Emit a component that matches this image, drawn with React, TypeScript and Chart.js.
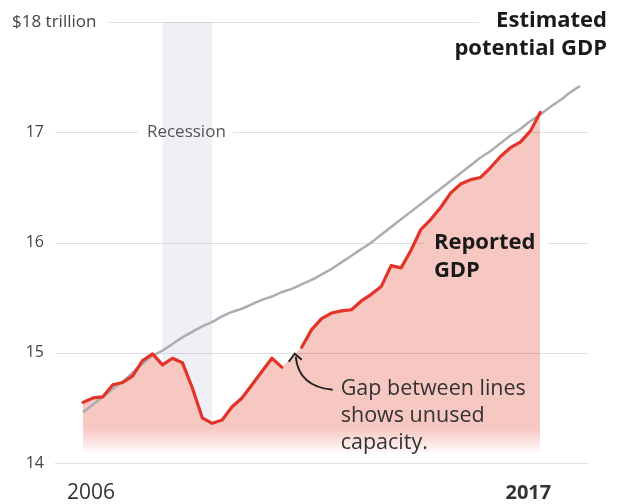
import React, { useEffect, useRef } from "react";
import { Chart, registerables } from "chart.js";

Chart.register(...registerables);

const quarters: string[] = [
  "2006 Q1", "2006 Q2", "2006 Q3", "2006 Q4",
  "2007 Q1", "2007 Q2", "2007 Q3", "2007 Q4",
  "2008 Q1", "2008 Q2", "2008 Q3", "2008 Q4",
  "2009 Q1", "2009 Q2", "2009 Q3", "2009 Q4",
  "2010 Q1", "2010 Q2", "2010 Q3", "2010 Q4",
  "2011 Q1", "2011 Q2", "2011 Q3", "2011 Q4",
  "2012 Q1", "2012 Q2", "2012 Q3", "2012 Q4",
  "2013 Q1", "2013 Q2", "2013 Q3", "2013 Q4",
  "2014 Q1", "2014 Q2", "2014 Q3", "2014 Q4",
  "2015 Q1", "2015 Q2", "2015 Q3", "2015 Q4",
  "2016 Q1", "2016 Q2", "2016 Q3", "2016 Q4",
  "2017 Q1", "2017 Q2", "2017 Q3", "2017 Q4",
  "2018 Q1", "2018 Q2", "2018 Q3",
];

// Reported GDP, $ trillion (null = break in the line for the annotation arrow)
const reportedGDP: (number | null)[] = [
  14.55, 14.59, 14.6, 14.71, 14.73, 14.79, 14.93, 14.99,
  14.89, 14.95, 14.91, 14.68, 14.41, 14.36, 14.39, 14.51,
  14.59, 14.71, 14.83, 14.95, 14.87, null, 15.05, 15.21,
  15.31, 15.36, 15.38, 15.39, 15.47, 15.53, 15.6, 15.79,
  15.77, 15.93, 16.12, 16.21, 16.32, 16.45, 16.53, 16.57,
  16.59, 16.68, 16.78, 16.86, 16.91, 17.01, 17.18,
];

// Estimated potential GDP, $ trillion
const potentialGDP: number[] = [
  14.46, 14.53, 14.6, 14.67, 14.74, 14.82, 14.9, 14.97,
  15.02, 15.08, 15.14, 15.19, 15.24, 15.28, 15.33, 15.37,
  15.4, 15.44, 15.48, 15.51, 15.55, 15.58, 15.62, 15.66,
  15.71, 15.76, 15.82, 15.88, 15.94, 16.0, 16.07, 16.14,
  16.21, 16.28, 16.35, 16.42, 16.49, 16.56, 16.63, 16.7,
  16.77, 16.83, 16.9, 16.97, 17.03, 17.1, 17.16, 17.23,
  17.29, 17.36, 17.42,
];

const yTickValues: number[] = [18, 17, 16, 15, 14];
const yTickLabels: string[] = ["$18 trillion", "17", "16", "15", "14"];
const xTickLabels: string[] = ["2006", "2017"];
const xTickQuarters: string[] = ["2006 Q1", "2017 Q1"];
const recessionRange: string[] = ["2008 Q1", "2009 Q2"];

const RED = "rgb(226,52,40)";
const GRAY = "rgb(170,173,178)";
const PINK = "rgb(247,199,194)";
const FONT = "'Open Sans', Roboto, sans-serif";

const overlayPlugin = {
  id: "overlay",
  beforeDatasetsDraw(chart: any) {
    const { ctx, scales } = chart;
    const x = scales.x;
    const y = scales.y;
    const x0 = x.getPixelForValue(quarters.indexOf(recessionRange[0]));
    const x1 = x.getPixelForValue(quarters.indexOf(recessionRange[1]));
    ctx.save();
    ctx.fillStyle = "rgb(239,239,245)";
    ctx.fillRect(x0, y.getPixelForValue(18), x1 - x0, y.getPixelForValue(14) - y.getPixelForValue(18));
    ctx.restore();
  },
  afterDatasetDraw(chart: any, args: any) {
    if (args.index !== 2) return;
    const { ctx, scales } = chart;
    const x = scales.x;
    const y = scales.y;
    const right = x.getPixelForValue(quarters.length - 1) + 8;
    ctx.save();
    ctx.font = `bold 22px ${FONT}`;
    const titleW = ctx.measureText("Estimated").width;
    const titleRight = right + 19;
    ctx.font = `17px ${FONT}`;
    const recW = ctx.measureText("Recession").width;
    const rx0 = x.getPixelForValue(quarters.indexOf(recessionRange[0]));
    const rx1 = x.getPixelForValue(quarters.indexOf(recessionRange[1]));
    const rc = (rx0 + rx1) / 2;
    ctx.font = `bold 22px ${FONT}`;
    const repW = ctx.measureText("Reported").width;
    const repX = x.getPixelForValue(35) + 3;
    ctx.font = `17px ${FONT}`;
    const topLabelW = ctx.measureText(yTickLabels[0]).width;

    const gaps: Record<number, [number, number][]> = {
      18: [[-1e9, 13 + topLabelW + 10], [titleRight - titleW - 17, 1e9]],
      17: [[rc - recW / 2 - 10, rc + recW / 2 + 6]],
      16: [[repX - 10, repX + repW + 12]],
    };
    ctx.strokeStyle = "rgba(0,0,0,0.12)";
    ctx.lineWidth = 1;
    yTickValues.forEach((v) => {
      const py = Math.round(y.getPixelForValue(v)) + 0.5;
      let segs: [number, number][] = [[55, right]];
      (gaps[v] || []).forEach(([g0, g1]) => {
        const out: [number, number][] = [];
        segs.forEach(([s0, s1]) => {
          if (g1 <= s0 || g0 >= s1) out.push([s0, s1]);
          else {
            if (g0 > s0) out.push([s0, g0]);
            if (g1 < s1) out.push([g1, s1]);
          }
        });
        segs = out;
      });
      segs.forEach(([s0, s1]) => {
        ctx.beginPath();
        ctx.moveTo(s0, py);
        ctx.lineTo(s1, py);
        ctx.stroke();
      });
    });
    ctx.restore();
  },
  afterDraw(chart: any) {
    const { ctx, scales } = chart;
    const x = scales.x;
    const y = scales.y;
    const right = x.getPixelForValue(quarters.length - 1) + 8;
    ctx.save();
    ctx.textBaseline = "middle";

    yTickValues.forEach((v, i) => {
      const py = y.getPixelForValue(v);
      ctx.fillStyle = "#444";
      if (i === 0) {
        ctx.font = `17px ${FONT}`;
        ctx.textAlign = "left";
        ctx.fillText(yTickLabels[i], 12, py);
      } else {
        ctx.font = `16px ${FONT}`;
        ctx.textAlign = "right";
        ctx.fillText(yTickLabels[i], 44, py);
      }
    });

    xTickLabels.forEach((lab, i) => {
      const px = x.getPixelForValue(quarters.indexOf(xTickQuarters[i])) + 8;
      ctx.font = i === xTickLabels.length - 1 ? `bold 20px ${FONT}` : `21px ${FONT}`;
      ctx.fillStyle = "#333";
      ctx.textAlign = "center";
      ctx.fillText(lab, px, y.getPixelForValue(14) + 30);
    });

    const rx0 = x.getPixelForValue(quarters.indexOf(recessionRange[0]));
    const rx1 = x.getPixelForValue(quarters.indexOf(recessionRange[1]));
    ctx.font = `17px ${FONT}`;
    ctx.fillStyle = "#555";
    ctx.textAlign = "center";
    ctx.fillText("Recession", (rx0 + rx1) / 2 - 1, y.getPixelForValue(17));

    ctx.font = `bold 22px ${FONT}`;
    ctx.fillStyle = "#1a1a1a";
    ctx.textAlign = "right";
    ctx.fillText("Estimated", right + 19, y.getPixelForValue(18) - 1);
    ctx.fillText("potential GDP", right + 19, y.getPixelForValue(18) + 27);

    ctx.font = `bold 22px ${FONT}`;
    ctx.textAlign = "left";
    const repX = x.getPixelForValue(35) + 3;
    ctx.fillText("Reported", repX, y.getPixelForValue(16));
    ctx.fillText("GDP", repX, y.getPixelForValue(16) + 28);

    const tipX = x.getPixelForValue(21.3);
    const tipY = y.getPixelForValue(15) + 1;
    ctx.strokeStyle = "#222";
    ctx.lineWidth = 2;
    ctx.beginPath();
    ctx.moveTo(tipX + 38, tipY + 36);
    ctx.quadraticCurveTo(tipX + 4, tipY + 33, tipX + 1, tipY + 3);
    ctx.stroke();
    ctx.beginPath();
    ctx.moveTo(tipX - 6, tipY + 8);
    ctx.lineTo(tipX, tipY);
    ctx.lineTo(tipX + 7, tipY + 6);
    ctx.stroke();

    ctx.font = `21.5px ${FONT}`;
    ctx.fillStyle = "#333";
    ctx.textAlign = "left";
    const tx = tipX + 46;
    ctx.fillText("Gap between lines", tx, tipY + 35);
    ctx.fillText("shows unused", tx, tipY + 62);
    ctx.fillText("capacity.", tx, tipY + 89);
    ctx.restore();
  },
};

export default function App() {
  const canvasRef = useRef<HTMLCanvasElement | null>(null);

  useEffect(() => {
    const canvas = canvasRef.current;
    if (!canvas) return;
    const chart = new Chart(canvas, {
      type: "line",
      data: {
        labels: quarters,
        datasets: [
          {
            label: "Reported GDP",
            data: reportedGDP,
            borderColor: RED,
            borderWidth: 3.2,
            borderJoinStyle: "round",
            borderCapStyle: "round",
            pointRadius: 0,
            fill: false,
            spanGaps: true,
            tension: 0,
            order: 1,
            clip: false,
            segment: {
              borderColor: (c: any) => (c.p0.skip || c.p1.skip ? "rgba(0,0,0,0)" : RED),
            },
          } as any,
          {
            label: "Estimated potential GDP",
            data: potentialGDP,
            borderColor: GRAY,
            borderWidth: 2.5,
            pointRadius: 0,
            fill: false,
            tension: 0.4,
            cubicInterpolationMode: "monotone",
            order: 2,
            clip: false,
          } as any,
          {
            label: "Reported GDP area",
            data: reportedGDP,
            borderWidth: 0,
            borderColor: "rgba(0,0,0,0)",
            pointRadius: 0,
            spanGaps: true,
            fill: "start",
            order: 3,
            clip: false,
            backgroundColor: (c: any) => {
              const ch = c.chart;
              const ys = ch.scales && ch.scales.y;
              if (!ch.chartArea || !ys) return PINK;
              const a = ys.getPixelForValue(14.32);
              const b = ys.getPixelForValue(14.08);
              if (!isFinite(a) || !isFinite(b)) return PINK;
              const g = ch.ctx.createLinearGradient(0, a, 0, b);
              g.addColorStop(0, PINK);
              g.addColorStop(0.5, "rgb(250,225,222)");
              g.addColorStop(1, "rgb(255,255,255)");
              return g;
            },
          } as any,
        ],
      },
      options: {
        responsive: false,
        animation: false,
        devicePixelRatio: 1,
        layout: { padding: { left: 83, right: 42, top: 22, bottom: 41 } },
        plugins: { legend: { display: false }, tooltip: { enabled: false } },
        scales: {
          x: { type: "category", display: false, offset: false },
          y: { type: "linear", display: false, min: 14, max: 18 },
        },
      },
      plugins: [overlayPlugin],
    });
    return () => chart.destroy();
  }, []);

  return (
    <div style={{ position: "fixed", left: 0, top: 0, width: 622, height: 504, background: "#fff" }}>
      <canvas ref={canvasRef} width={622} height={504} style={{ width: 622, height: 504, display: "block" }} />
    </div>
  );
}
